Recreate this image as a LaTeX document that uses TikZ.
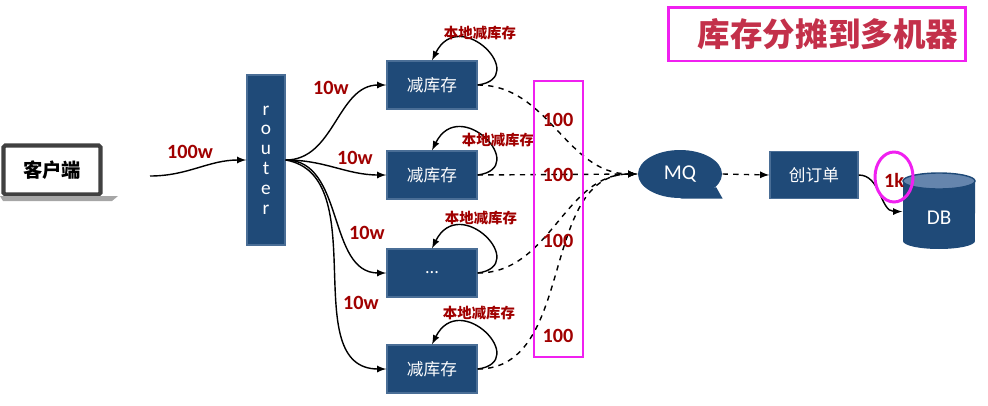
\documentclass[tikz,border=0pt]{standalone}
\usepackage{fontspec}
\setmainfont{Carlito}
\newfontfamily\cjk{Noto Sans CJK SC}
\usetikzlibrary{shapes.geometric}
\definecolor{boxblue}{HTML}{1F4A78}
\definecolor{boxedge}{HTML}{4A6E96}
\definecolor{dbtop}{HTML}{6585AD}
\definecolor{numred}{HTML}{A00000}
\definecolor{titlered}{HTML}{C3304A}
\definecolor{hlpink}{HTML}{F020F0}

\begin{document}
\begin{tikzpicture}[x=0.02cm, y=-0.02cm, thick, >=latex,
    box/.style = {draw=boxedge, fill=boxblue, text=white, minimum width=1.8cm, minimum height=0.96cm, font=\cjk\fontsize{9.5}{11}\selectfont},
    num/.style = {text=numred, font=\bfseries\fontsize{11.5}{13}\selectfont, inner sep=1pt},
    note/.style = {text=numred, font=\cjk\bfseries\fontsize{8.2}{10}\selectfont, inner sep=1pt},
    hl/.style = {draw=hlpink, line width=1.7pt}]
    \useasboundingbox (0,0) rectangle (988,406);

    \node[draw=black!75, line width=2.3pt, rounded corners=1pt, fill=white, minimum width=1.94cm, minimum height=0.98cm, font=\cjk\bfseries\fontsize{11}{13}\selectfont] (client) at (52,170) {客户端};
    \fill[black!35] (0,196) -- (118,196) -- (112,201) -- (3,201) -- cycle;
    \coordinate (src) at (150,176);

    \node[fill=boxblue, draw=boxedge, minimum width=0.76cm, minimum height=3.4cm, text=white, align=center, font=\fontsize{11}{11.3}\selectfont] (router) at (266,160) {r\\o\\u\\t\\e\\r};

    \node[box] (s1) at (432,85) {减库存};
    \node[box] (s2) at (432,175) {减库存};
    \node[box] (s3) at (432,273) {...};
    \node[box] (s4) at (432,369) {减库存};

    \node[ellipse, fill=boxblue, minimum width=1.68cm, minimum height=0.96cm, text=white, font=\fontsize{12}{14}\selectfont] (mq) at (680,174) {MQ};
    \fill[boxblue] (mq.south) -- (mq.south -| mq.east) -- (mq.-20) -- cycle;
    \node[box, minimum width=1.76cm, minimum height=0.94cm] (order) at (814,175) {创订单};

    \fill[boxblue] (903,181) -- (903,241) arc[start angle=180, end angle=360, x radius=0.72cm, y radius=0.16cm] -- (975,181) -- cycle;
    \filldraw[fill=dbtop, draw=boxblue] (939,181) ellipse (0.72cm and 0.16cm);
    \node[minimum width=1.44cm, minimum height=1.24cm, text=white, font=\fontsize{12}{14}\selectfont] (db) at (939,218) {DB};

    \draw[->] (src) to[out=0, in=180] (router.west);
    \draw[->] (router.east) to[out=0, in=180] (s1.west);
    \draw[->] (router.east) to[out=0, in=180] (s2.west);
    \draw[->] (router.east) to[out=0, in=180] (s3.west);
    \draw[->] (router.east) to[out=-10, in=180] (s4.west);

    \draw[->] (s1.east) .. controls +(53,-7) and +(28,-56) .. (s1.north);
    \draw[->] (s2.east) .. controls +(53,-7) and +(28,-56) .. (s2.north);
    \draw[->] (s3.east) .. controls +(53,-7) and +(28,-56) .. (s3.north);
    \draw[->] (s4.east) .. controls +(53,-7) and +(28,-56) .. (s4.north);

    \draw[->, dashed] (s1.east) to[out=0, in=180] (mq.west);
    \draw[->, dashed] (s2.east) -- (mq.west);
    \draw[->, dashed] (s3.east) to[out=0, in=180] (mq.west);
    \draw[->, dashed] (s4.east) to[out=0, in=180] (mq.west);
    \draw[->, dashed] (mq.east) -- (order.west);
    \draw[->] (order.east) to[out=0, in=180] (db.170);

    \node[num] (w0) at (190,152) {100w};
    \node[num] (w1) at (331,88) {10w};
    \node[num] (w2) at (355,158) {10w};
    \node[num] (w3) at (367,233) {10w};
    \node[num] (w4) at (361,303) {10w};

    \node[note] (n1) at (480,33) {本地减库存};
    \node[note] (n2) at (498,140) {本地减库存};
    \node[note] (n3) at (481,218) {本地减库存};
    \node[note] (n4) at (479,313) {本地减库存};

    \draw[hl] (534,81) rectangle (583,357);
    \node[num] (c1) at (558,120) {100};
    \node[num] (c2) at (558,175) {100};
    \node[num] (c3) at (558,241) {100};
    \node[num] (c4) at (558,336) {100};

    \node[num] (k) at (894,180) {1k};
    \node[hl, ellipse, minimum width=0.76cm, minimum height=1cm] (ring) at (894,177) {};

    \node[hl, minimum width=5.96cm, minimum height=1.08cm, text=titlered, font=\cjk\bfseries\fontsize{18.5}{20}\selectfont] (title) at (817,34) {\hspace*{0.44cm}库存分摊到多机器};

\end{tikzpicture}
\end{document}
